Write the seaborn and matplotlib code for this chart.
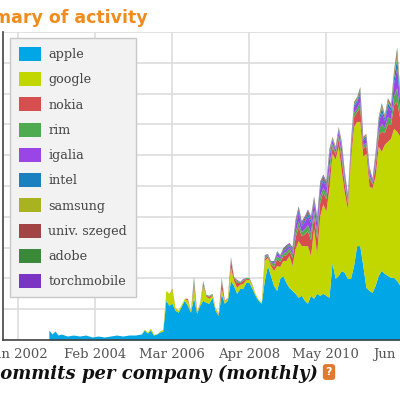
import numpy as np
import matplotlib
matplotlib.use("Agg")
import matplotlib.pyplot as plt
import seaborn as sns

# month index: 0 = Jan 2002
months = [10, 11, 12, 13, 14] + list(range(16, 41, 2)) + list(range(41, 125))
Z = [0] * 18  # months before 41 for the minor series

apple = [10, 6, 9, 5, 6, 4, 5, 4, 5, 3, 4, 3, 4, 5, 4, 5, 5, 6,
         10, 7, 10, 5, 6, 8, 9, 40, 35, 37, 30, 28, 34, 40, 35, 28, 43, 27, 35, 40,
         38, 37, 43, 30, 25, 47, 37, 40, 60, 55, 47, 52, 52, 58, 58, 52, 45, 40, 37, 60,
         75, 65, 55, 50, 62, 65, 58, 53, 50, 47, 43, 45, 40, 37, 45, 42, 47, 45, 47, 45,
         43, 78, 62, 65, 70, 68, 62, 62, 75, 95, 95, 75, 53, 50, 48, 55, 65, 70, 67, 65,
         63, 63, 60, 55]
google = Z + [1, 1, 2, 1, 0, 1, 2, 10, 12, 14, 3, 2, 2, 2, 5, 2, 10, 1, 3, 15,
              6, 5, 2, 3, 1, 5, 2, 3, 13, 5, 6, 4, 5, 3, 3, 3, 2, 1, 1, 20,
              8, 10, 15, 25, 12, 15, 22, 32, 25, 45, 57, 50, 55, 58, 40, 70, 40, 80, 90, 85,
              110, 110, 120, 130, 100, 80, 70, 120, 140, 125, 125, 110, 135, 105, 105, 110, 130, 120, 130, 135,
              140, 150, 150, 150]
nokia = Z + [0, 0, 0, 0, 0, 0, 0, 0, 0, 1, 0, 0, 0, 0, 2, 0, 5, 1, 0, 3,
             1, 2, 1, 0, 1, 8, 1, 0, 8, 3, 5, 2, 3, 1, 1, 1, 0, 0, 0, 2,
             2, 2, 4, 7, 5, 5, 6, 5, 8, 12, 14, 10, 12, 15, 16, 13, 15, 14, 12, 12,
             15, 7, 5, 8, 12, 9, 6, 8, 10, 10, 14, 8, 8, 8, 4, 10, 12, 20, 12, 18,
             14, 24, 30, 18]
rim = Z + [0] * 10 + [0, 0, 0, 0, 0, 0, 5, 0, 0, 2,
                      1, 1, 1, 0, 0, 2, 0, 0, 2, 1, 2, 1, 1, 1, 1, 0, 0, 0, 0, 2,
                      1, 2, 3, 3, 3, 3, 3, 3, 4, 5, 6, 4, 5, 6, 7, 6, 7, 6, 5, 5,
                      7, 3, 2, 3, 5, 4, 3, 3, 4, 4, 6, 3, 3, 3, 2, 4, 5, 8, 5, 7,
                      6, 9, 14, 7]
igalia = Z + [0] * 16 + [1] + [0] * 8 + [1, 0, 0, 1, 0] + \
    [1, 0, 1, 0, 0, 0, 0, 0, 0, 1,
     1, 1, 2, 3, 2, 2, 3, 2, 3, 7, 8, 6, 7, 9, 10, 8, 9, 8, 7, 7,
     10, 4, 3, 5, 7, 5, 4, 5, 6, 6, 8, 5, 5, 5, 2, 6, 7, 11, 7, 10,
     8, 13, 20, 10]
intel = Z + [0] * 40 + [0, 0, 0, 1, 1, 1, 1, 1, 1, 2, 3, 2, 2, 3, 3, 2, 3, 3, 2, 2,
                        3, 1, 1, 2, 2, 2, 1, 2, 2, 2, 3, 2, 2, 2, 1, 2, 3, 5, 3, 4,
                        3, 6, 10, 5]
samsung = Z + [0] * 60 + [1, 1, 1, 1, 1, 1, 0, 1, 1, 1, 1, 1, 1, 1, 0, 1, 1, 2, 1, 2,
                          1, 3, 4, 2]
szeged = Z + [0] * 44 + [1, 1, 1, 0, 1, 2, 2, 1, 2, 2, 2, 2, 2, 2, 2, 2,
                         2, 1, 1, 1, 2, 1, 1, 1, 1, 1, 2, 1, 1, 1, 1, 1, 1, 2, 1, 2,
                         2, 2, 4, 2]
adobe = Z + [0] * 39 + [1, 0, 0, 1, 1, 0, 1, 1, 1, 1, 1, 1, 1, 1, 1, 1, 1, 1, 1, 1, 1,
                        1, 0, 0, 0, 1, 0, 0, 0, 1, 1, 1, 0, 0, 0, 0, 1, 1, 1, 1, 1,
                        1, 2, 3, 1]
torchmobile = Z + [0] * 45 + [0, 1, 1, 1, 1, 1, 1, 1, 1, 1, 1, 1, 1, 1, 1, 1, 0, 0, 0, 0] + [0] * 19

companies = ["apple", "google", "nokia", "rim", "igalia", "intel", "samsung",
             "univ. szeged", "adobe", "torchmobile"]
series = [apple, google, nokia, rim, igalia, intel, samsung, szeged, adobe, torchmobile]
colors = ["#00a6e6", "#c2d600", "#d64f4f", "#4fab4f", "#9a45e6", "#1a80c0",
          "#a8b31f", "#a34444", "#3a8a3a", "#7a35c2"]

tick_pos = [0, 25, 50, 75, 100, 125]
tick_labels = ["Jan 2002", "Feb 2004", "Mar 2006", "Apr 2008", "May 2010", "Jun 2012"]

sns.set_style("whitegrid")
plt.rcParams["font.family"] = ["DejaVu Serif"]

fig = plt.figure(figsize=(4, 4), dpi=100)
ax = fig.add_axes([3 / 400, 60 / 400, 406 / 400, 308 / 400])
ax.stackplot(months, *series, colors=colors, labels=companies, linewidth=0)
ax.set_xlim(-4.9, 127)
ax.set_ylim(0, 310)
ax.set_yticks(np.arange(0, 311, 31))
ax.set_yticklabels([])
ax.set_xticks(tick_pos)
ax.set_xticklabels(tick_labels, fontsize=9.5, color="#555555")
ax.tick_params(length=0, pad=6)
ax.grid(True, color="#dddddd", linewidth=1.2)
for s in ["top", "right"]:
    ax.spines[s].set_visible(False)
for s in ["left", "bottom"]:
    ax.spines[s].set_color("#444444")
    ax.spines[s].set_linewidth(1.2)

leg = ax.legend(loc="upper left", bbox_to_anchor=(10 / 400, 1 - 38 / 400),
                bbox_transform=fig.transFigure, fontsize=9.2, labelspacing=0.86,
                handlelength=1.7, handleheight=1.3, borderpad=0.7, borderaxespad=0,
                handletextpad=0.6,
                frameon=True, fancybox=False, facecolor="#f2f2f2", edgecolor="#c8c8c8",
                framealpha=1)
for t in leg.get_texts():
    t.set_color("#444444")

fig.text(148 / 400, 1 - 18 / 400, "Summary of activity", ha="right", va="center",
         color="#f08c1e", fontsize=12.5, fontweight="bold", family="DejaVu Sans")
fig.text(318 / 400, 1 - 374 / 400, "Reviewed commits per company (monthly)", ha="right",
         va="center", color="#111111", fontsize=13, fontweight="bold", style="italic")
fig.text(329 / 400, 1 - 372 / 400, "?", ha="center", va="center", color="white",
         fontsize=8, fontweight="bold", family="DejaVu Sans",
         bbox=dict(boxstyle="round,pad=0.2", fc="#e07a30", ec="#e07a30"))

fig.savefig("out.png", dpi=100)
